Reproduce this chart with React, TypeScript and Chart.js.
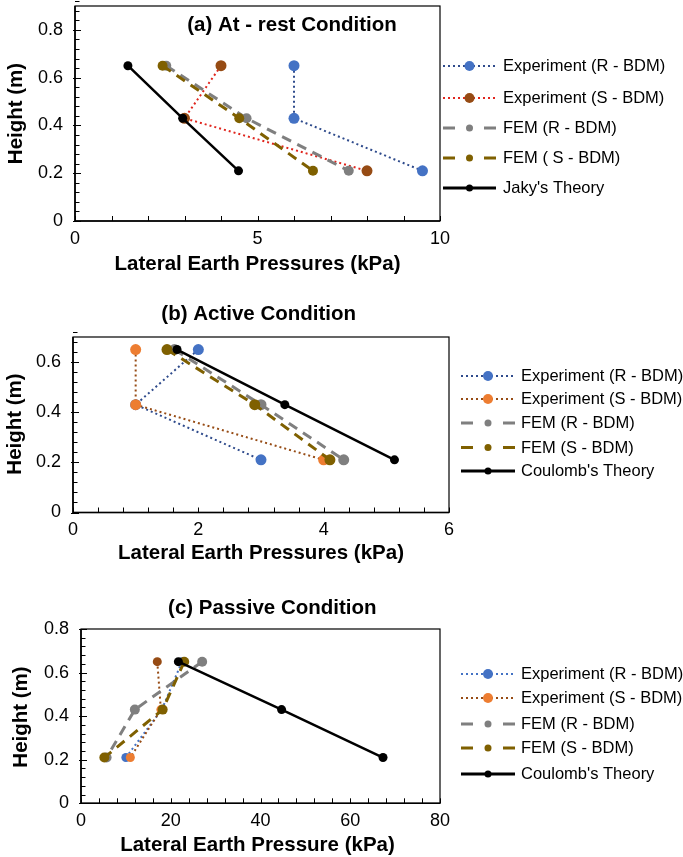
import React, { useEffect, useRef } from 'react';
import { Chart, registerables } from 'chart.js';

Chart.register(...registerables);

// ---------- data ----------
const HEIGHTS = [0.65, 0.43, 0.21];

// (a) At-rest condition (kPa)
const A_EXP_R = [6.0, 6.0, 9.52];
const A_EXP_S = [4.0, 3.0, 8.0];
const A_FEM_R = [2.5, 4.7, 7.5];
const A_FEM_S = [2.4, 4.5, 6.52];
const A_JAKY = [1.45, 2.95, 4.48];

// (b) Active condition (kPa)
const B_EXP_R = [2.0, 1.0, 3.0];
const B_EXP_S = [1.0, 1.0, 4.0];
const B_FEM_R = [1.62, 3.0, 4.32];
const B_FEM_S = [1.5, 2.9, 4.1];
const B_COULOMB = [1.66, 3.38, 5.13];

// (c) Passive condition (kPa)
const C_EXP_R = [22.5, 18.0, 10.0];
const C_EXP_S = [17.0, 17.8, 11.0];
const C_FEM_R = [27.0, 12.0, 5.7];
const C_FEM_S = [23.0, 18.2, 5.2];
const C_COULOMB = [21.7, 44.7, 67.3];

const LABELS_A = ['Experiment (R - BDM)', 'Experiment (S - BDM)', 'FEM (R - BDM)', 'FEM ( S - BDM)', "Jaky's Theory"];
const LABELS_B = ['Experiment (R - BDM)', 'Experiment (S - BDM)', 'FEM (R - BDM)', 'FEM (S - BDM)', "Coulomb's Theory"];
const LABELS_C = ['Experiment (R - BDM)', 'Experiment (S - BDM)', 'FEM (R - BDM)', 'FEM (S - BDM)', "Coulomb's Theory"];

const X_TICKS_A = [0, 5, 10];
const X_TICKS_B = [0, 2, 4, 6];
const X_TICKS_C = [0, 20, 40, 60, 80];
const Y_TICKS_A = [0, 0.2, 0.4, 0.6, 0.8];
const Y_TICKS_B = [0, 0.2, 0.4, 0.6];
const Y_TICKS_C = [0, 0.2, 0.4, 0.6, 0.8];

// ---------- styles ----------
const FONT = '"Liberation Sans", Arial, Helvetica, sans-serif';
const W = 683;

type Kind = 'dot' | 'dash' | 'solid';
interface Series {
  label: string;
  values: number[];
  kind: Kind;
  line: string;
  point: string | string[];
  r: number;
  lr: number;
}
interface Panel {
  top: number;
  height: number;
  plot: { left: number; right: number; top: number; bottom: number };
  xMin: number; xMax: number; xMinor: number; xTicks: number[];
  yMin: number; yMax: number; yMinor: number; yTicks: number[];
  title: string; titleX: number; titleY: number;
  xTitle: string; xTitleX: number; xTitleY: number;
  yTitle: string; yTitleX: number; yTitleY: number;
  legX0: number; legX1: number; legTextX: number; legY: number[];
  series: Series[];
}

const BLUE = '#4472C4';
const NAVY = '#2F4B8C';
const RED = '#E0261E';
const BROWN = '#964B14';
const ORANGE = '#ED7D31';
const GRAY = '#7F7F7F';
const OLIVE = '#7F6000';

const PANELS: Panel[] = [
  {
    top: 0, height: 285,
    plot: { left: 75, right: 440, top: 6, bottom: 221 },
    xMin: 0, xMax: 10, xMinor: 1, xTicks: X_TICKS_A,
    yMin: 0, yMax: 0.9, yMinor: 0.04, yTicks: Y_TICKS_A,
    title: '(a) At - rest Condition', titleX: 292, titleY: 25,
    xTitle: 'Lateral Earth Pressures (kPa)', xTitleX: 257.5, xTitleY: 264,
    yTitle: 'Height (m)', yTitleX: 16, yTitleY: 113.5,
    legX0: 443, legX1: 496, legTextX: 503, legY: [66, 98, 128, 158, 188],
    series: [
      { label: LABELS_A[0], values: A_EXP_R, kind: 'dot', line: NAVY, point: BLUE, r: 5.5, lr: 5 },
      { label: LABELS_A[1], values: A_EXP_S, kind: 'dot', line: RED, point: BROWN, r: 5.5, lr: 5 },
      { label: LABELS_A[2], values: A_FEM_R, kind: 'dash', line: GRAY, point: GRAY, r: 5, lr: 3.5 },
      { label: LABELS_A[3], values: A_FEM_S, kind: 'dash', line: OLIVE, point: OLIVE, r: 5, lr: 3.5 },
      { label: LABELS_A[4], values: A_JAKY, kind: 'solid', line: '#000000', point: '#000000', r: 4.5, lr: 3.5 },
    ],
  },
  {
    top: 285, height: 290,
    plot: { left: 73, right: 449, top: 52, bottom: 227.5 },
    xMin: 0, xMax: 6, xMinor: 0.4, xTicks: X_TICKS_B,
    yMin: 0, yMax: 0.7, yMinor: 0.04, yTicks: Y_TICKS_B,
    title: '(b) Active Condition', titleX: 258.7, titleY: 29,
    xTitle: 'Lateral Earth Pressures (kPa)', xTitleX: 261, xTitleY: 268,
    yTitle: 'Height (m)', yTitleX: 15, yTitleY: 139,
    legX0: 461, legX1: 515, legTextX: 521, legY: [91, 114, 138, 162.5, 186],
    series: [
      { label: LABELS_B[0], values: B_EXP_R, kind: 'dot', line: NAVY, point: BLUE, r: 5.5, lr: 5 },
      { label: LABELS_B[1], values: B_EXP_S, kind: 'dot', line: BROWN, point: ORANGE, r: 5.5, lr: 5 },
      { label: LABELS_B[2], values: B_FEM_R, kind: 'dash', line: GRAY, point: GRAY, r: 5.5, lr: 3.5 },
      { label: LABELS_B[3], values: B_FEM_S, kind: 'dash', line: OLIVE, point: OLIVE, r: 5.5, lr: 3.5 },
      { label: LABELS_B[4], values: B_COULOMB, kind: 'solid', line: '#000000', point: '#000000', r: 4.5, lr: 3.5 },
    ],
  },
  {
    top: 575, height: 282,
    plot: { left: 81, right: 440, top: 54, bottom: 228.3 },
    xMin: 0, xMax: 80, xMinor: 4, xTicks: X_TICKS_C,
    yMin: 0, yMax: 0.8, yMinor: 0.04, yTicks: Y_TICKS_C,
    title: '(c) Passive Condition', titleX: 272.3, titleY: 33,
    xTitle: 'Lateral Earth Pressure (kPa)', xTitleX: 257.5, xTitleY: 270,
    yTitle: 'Height (m)', yTitleX: 21.7, yTitleY: 142,
    legX0: 461, legX1: 515, legTextX: 521, legY: [99, 123, 149, 173, 199],
    series: [
      { label: LABELS_C[0], values: C_EXP_R, kind: 'dot', line: BLUE, point: BLUE, r: 4.5, lr: 5 },
      { label: LABELS_C[1], values: C_EXP_S, kind: 'dot', line: BROWN, point: [BROWN, ORANGE, ORANGE], r: 4.5, lr: 5 },
      { label: LABELS_C[2], values: C_FEM_R, kind: 'dash', line: GRAY, point: GRAY, r: 5, lr: 3.5 },
      { label: LABELS_C[3], values: C_FEM_S, kind: 'dash', line: OLIVE, point: OLIVE, r: 5, lr: 3.5 },
      { label: LABELS_C[4], values: C_COULOMB, kind: 'solid', line: '#000000', point: '#000000', r: 4.5, lr: 3.5 },
    ],
  },
];

function fmt(v: number) {
  return String(Math.round(v * 100) / 100);
}

function legendPointColor(p: string | string[]) {
  return Array.isArray(p) ? p[p.length - 1] : p;
}

function makeDecor(p: Panel) {
  return {
    id: 'decor',
    beforeDatasetsDraw(chart: any) {
      const { ctx, chartArea: a, scales } = chart;
      const xs = scales.x;
      const ys = scales.y;
      ctx.save();
      ctx.strokeStyle = '#000';
      ctx.lineWidth = 1;
      ctx.setLineDash([]);
      // x minor/major tick marks (inside)
      const nx = Math.round((p.xMax - p.xMin) / p.xMinor);
      for (let i = 0; i <= nx; i++) {
        const v = p.xMin + i * p.xMinor;
        const px = Math.round(xs.getPixelForValue(v)) + 0.5;
        ctx.beginPath();
        ctx.moveTo(px, a.bottom);
        ctx.lineTo(px, a.bottom - 5);
        ctx.stroke();
      }
      const ny = Math.round((p.yMax - p.yMin) / p.yMinor);
      for (let i = 0; i <= ny; i++) {
        const v = p.yMin + i * p.yMinor;
        const major = p.yTicks.some((t) => Math.abs(t - v) < 1e-6);
        const py = Math.round(ys.getPixelForValue(v)) + 0.5;
        ctx.beginPath();
        ctx.moveTo(a.left - (major ? 2 : 0), py);
        ctx.lineTo(a.left + (major ? 6 : 4.5), py);
        ctx.stroke();
      }
      // frame
      ctx.lineWidth = 1.2;
      ctx.strokeRect(a.left, a.top, a.right - a.left, a.bottom - a.top);
      ctx.lineWidth = 1.6;
      ctx.beginPath();
      ctx.moveTo(a.left, a.top);
      ctx.lineTo(a.left, a.bottom);
      ctx.lineTo(a.right, a.bottom);
      ctx.stroke();
      ctx.restore();
    },
    afterDraw(chart: any) {
      const { ctx } = chart;
      ctx.save();
      ctx.fillStyle = '#000';
      ctx.textBaseline = 'middle';
      ctx.textAlign = 'center';
      ctx.font = `bold 20.5px ${FONT}`;
      ctx.fillText(p.title, p.titleX, p.titleY);
      ctx.fillText(p.xTitle, p.xTitleX, p.xTitleY);
      ctx.save();
      ctx.translate(p.yTitleX, p.yTitleY);
      ctx.rotate(-Math.PI / 2);
      ctx.fillText(p.yTitle, 0, 0);
      ctx.restore();

      // legend
      ctx.font = `16.5px ${FONT}`;
      ctx.textAlign = 'left';
      p.series.forEach((s, i) => {
        const y = p.legY[i];
        const x0 = p.legX0;
        const x1 = p.legX1;
        const xm = (x0 + x1) / 2;
        ctx.strokeStyle = s.line;
        ctx.setLineDash([]);
        if (s.kind === 'dot') {
          ctx.lineWidth = 2;
          ctx.setLineDash([2, 3]);
          ctx.beginPath();
          ctx.moveTo(x0, y);
          ctx.lineTo(x1, y);
          ctx.stroke();
        } else if (s.kind === 'dash') {
          ctx.lineWidth = 3;
          ctx.beginPath();
          ctx.moveTo(x0, y);
          ctx.lineTo(x0 + 12, y);
          ctx.moveTo(x1 - 12, y);
          ctx.lineTo(x1, y);
          ctx.stroke();
        } else {
          ctx.lineWidth = 3;
          ctx.beginPath();
          ctx.moveTo(x0, y);
          ctx.lineTo(x1, y);
          ctx.stroke();
        }
        ctx.setLineDash([]);
        ctx.fillStyle = legendPointColor(s.point);
        ctx.beginPath();
        ctx.arc(xm, y, s.lr, 0, Math.PI * 2);
        ctx.fill();
        ctx.fillStyle = '#000';
        ctx.fillText(s.label, p.legTextX, y + 0.5);
      });
      ctx.restore();
    },
  };
}

function PanelChart({ p }: { p: Panel }) {
  const ref = useRef<HTMLCanvasElement | null>(null);
  useEffect(() => {
    if (!ref.current) return;
    const n = p.series.length;
    const datasets = p.series.map((s, i) => ({
      label: s.label,
      data: s.values.map((x, k) => ({ x, y: HEIGHTS[k] })),
      showLine: true,
      borderColor: s.line,
      borderWidth: s.kind === 'dot' ? 2 : s.kind === 'dash' ? 3 : 2.5,
      borderDash: s.kind === 'dot' ? [2, 3] : s.kind === 'dash' ? [10, 7] : [],
      borderCapStyle: 'butt',
      pointRadius: s.r,
      pointHoverRadius: s.r,
      pointBackgroundColor: s.point,
      pointBorderColor: s.point,
      pointBorderWidth: 0,
      order: n - i,
      clip: false,
    }));
    const tickFont = { family: FONT, size: 18 };
    const chart = new Chart(ref.current, {
      type: 'scatter',
      data: { datasets } as any,
      options: {
        responsive: false,
        animation: false,
        devicePixelRatio: 1,
        layout: { padding: { left: 0, top: p.plot.top, right: W - p.plot.right, bottom: 0 } },
        plugins: { legend: { display: false }, tooltip: { enabled: false }, title: { display: false } },
        scales: {
          x: {
            type: 'linear',
            min: p.xMin,
            max: p.xMax,
            grid: { display: false, drawTicks: false },
            border: { display: false },
            ticks: { font: tickFont, color: '#000', padding: 7, maxRotation: 0, autoSkip: false, callback: (v: any) => fmt(Number(v)) },
            afterBuildTicks: (s: any) => { s.ticks = p.xTicks.map((v) => ({ value: v })); },
            afterFit: (s: any) => { s.height = p.height - p.plot.bottom; s.paddingLeft = 0; s.paddingRight = 0; },
          },
          y: {
            type: 'linear',
            min: p.yMin,
            max: p.yMax,
            grid: { display: false, drawTicks: false },
            border: { display: false },
            ticks: { font: tickFont, color: '#000', padding: 12, autoSkip: false, callback: (v: any) => fmt(Number(v)) },
            afterBuildTicks: (s: any) => { s.ticks = p.yTicks.map((v) => ({ value: v })); },
            afterFit: (s: any) => { s.width = p.plot.left; s.paddingTop = 0; s.paddingBottom = 0; },
          },
        },
      } as any,
      plugins: [makeDecor(p)],
    });
    return () => chart.destroy();
  }, [p]);
  return (
    <canvas
      ref={ref}
      width={W}
      height={p.height}
      style={{ position: 'absolute', left: 0, top: p.top, width: W, height: p.height }}
    />
  );
}

export default function App() {
  return (
    <div style={{ position: 'absolute', left: 0, top: 0, width: W, height: 857, background: '#ffffff', overflow: 'hidden' }}>
      {PANELS.map((p, i) => (
        <PanelChart key={i} p={p} />
      ))}
    </div>
  );
}
